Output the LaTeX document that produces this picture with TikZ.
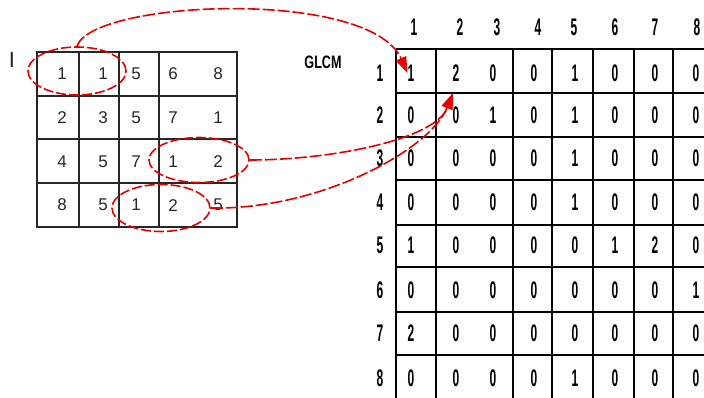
\documentclass[tikz,border=0pt]{standalone}
\usepackage{fontspec}
\setmainfont{Liberation Sans}
\newfontfamily\narrowfont[FakeStretch=0.5]{Liberation Sans}
\newfontfamily\labelfont[FakeStretch=0.7]{Liberation Sans}
\usetikzlibrary{arrows.meta,shapes.geometric}

\tikzset{
  incell/.style={inner sep=0pt,text=black!85,font=\fontsize{17}{17}\selectfont},
  glcmcell/.style={inner sep=0pt,font=\narrowfont\bfseries\fontsize{24}{24}\selectfont},
  ring/.style={draw=red!90!black,ellipse,line width=1.6pt,
    dash pattern=on 10pt off 3pt,inner sep=0pt},
  link/.style={draw=red!90!black,line width=1.6pt,dash pattern=on 12pt off 3pt,
    -{Triangle[length=16pt,width=11pt]}},
}

\begin{document}
\begin{tikzpicture}[x=1pt,y=-1pt]
    \useasboundingbox (0,0) rectangle (704,398);
    \clip (0,0) rectangle (704,398);

    % input image
    \node[incell,font=\fontsize{22}{22}\selectfont] (imgmark) at (12,60) {I};
    \draw[black!85,line width=1.3pt] (37,52) rectangle (237,227);
    \foreach \y in {96,139,183}{
        \draw[black!85,line width=1.3pt] (37,\y) -- (237,\y);
    }
    \foreach \x in {79,119,159}{
        \draw[black!85,line width=1.3pt] (\x,52) -- (\x,227);
    }
    \foreach \vals [count=\r] in {{1,1,5,6,8},{2,3,5,7,1},{4,5,7,1,2},{8,5,1,2,5}}{
        \foreach \v [count=\c] in \vals{
            \pgfmathsetmacro\mx{{62,103,136,173,218}[\c-1]}
            \pgfmathsetmacro\my{30.3+43.7*\r}
            \node[incell] (m-\r-\c) at (\mx,\my) {\v};
        }
    }

    % pairs
    \node[ring,minimum width=98pt,minimum height=48pt] (e1) at (77,71) {};
    \node[ring,minimum width=100pt,minimum height=45pt] (e2) at (199,160) {};
    \node[ring,minimum width=98pt,minimum height=47pt] (e3) at (161,208) {};

    % GLCM
    \node[font=\labelfont\bfseries\fontsize{18}{18}\selectfont] (glcm) at (323,62) {GLCM};
    \foreach \x in {396,436,513,552,593,634,673}{
        \draw[black,line width=2pt] (\x,49) -- (\x,410);
    }
    \foreach \y in {49,93,137,180,225,267,312,355}{
        \draw[black,line width=2pt] (396,\y) -- (712,\y);
    }
    \foreach \k [count=\c] in {414,460,497,538,574,615,655,697}{
        \node[glcmcell] (col-\c) at (\k,27) {\c};
    }
    \foreach \k [count=\r] in {73,115,158,202,245,290,333,378}{
        \node[glcmcell] (row-\r) at (380,\k) {\r};
    }
    \foreach \vals [count=\r] in {{1,2,0,0,1,0,0,0},{0,0,1,0,1,0,0,0},
        {0,0,0,0,1,0,0,0},{0,0,0,0,1,0,0,0},{1,0,0,0,0,1,2,0},
        {0,0,0,0,0,0,0,1},{2,0,0,0,0,0,0,0},{0,0,0,0,1,0,0,0}}{
        \foreach \v [count=\c] in \vals{
            \pgfmathsetmacro\gx{{411,456,493,534,575,615,655,696}[\c-1]}
            \pgfmathsetmacro\gy{{73,115,158,202,245,290,333,378}[\r-1]}
            \node[glcmcell] (g-\r-\c) at (\gx,\gy) {\v};
        }
    }

    % counting arrows
    \coordinate (hit) at (453,93);
    \draw[link] (e1.north) .. controls (92,0) and (370,-12) .. (g-1-1.west);
    \draw[link] (e2.east) .. controls (330,160) and (435,140) .. (hit);
    \draw[link] (e3.east) .. controls (320,210) and (430,150) .. (hit);
\end{tikzpicture}
\end{document}
